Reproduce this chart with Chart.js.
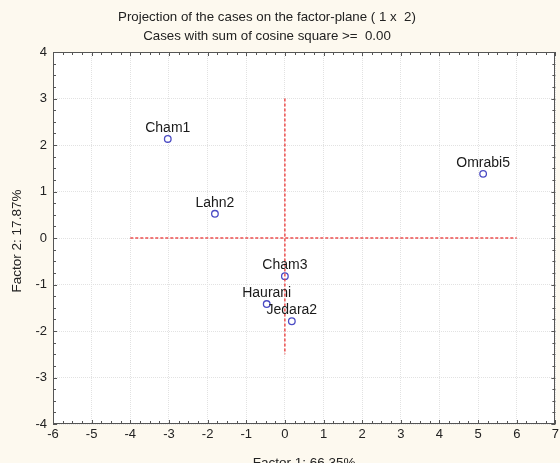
<!DOCTYPE html>
<html>
<head>
<meta charset="utf-8">
<script src="https://cdn.jsdelivr.net/npm/chart.js@4.4.1/dist/chart.umd.min.js"></script>
<style>
  html, body { margin: 0; padding: 0; background: #fdf9ef; }
  #wrap { width: 560px; height: 463px; position: relative; }
</style>
</head>
<body>
<div id="wrap"><canvas id="c" width="560" height="463"></canvas></div>
<script>
// Case coordinates on the first factor plane
const caseNames = ['Cham1', 'Lahn2', 'Cham3', 'Haurani', 'Jedara2', 'Omrabi5'];
const factor1 = [-3.03, -1.81, 0.00, -0.47, 0.18, 5.13];
const factor2 = [2.13, 0.52, -0.82, -1.42, -1.79, 1.38];

// Reference cross (dashed red)
const crossH = [{ x: -4, y: 0 }, { x: 6, y: 0 }];
const crossV = [{ x: 0, y: 3 }, { x: 0, y: -2.5 }];

const titleLines = ['Projection of the cases on the factor-plane ( 1 x  2)',
                    'Cases with sum of cosine square >=  0.00'];
const xTitle = 'Factor 1: 66.35%';
const yTitle = 'Factor 2: 17.87%';

const FONT = '"Liberation Sans", Arial, sans-serif';

const points = caseNames.map((n, i) => ({ x: factor1[i], y: factor2[i] }));

// Frame, inward minor/major ticks, case labels and text
const decor = {
  id: 'decor',
  beforeDraw(chart) {
    const { ctx, chartArea: a } = chart;
    ctx.save();
    ctx.fillStyle = '#ffffff';
    ctx.fillRect(a.left, a.top, a.right - a.left, a.bottom - a.top);
    ctx.restore();
  },
  afterDraw(chart) {
    const { ctx, chartArea: a, scales } = chart;
    const xs = scales.x, ys = scales.y;
    ctx.save();
    ctx.strokeStyle = '#555';
    ctx.lineWidth = 1;
    ctx.strokeRect(Math.round(a.left) + 0.5, Math.round(a.top) + 0.5,
                   Math.round(a.right - a.left) - 1, Math.round(a.bottom - a.top) - 1);
    ctx.beginPath();
    for (let v = xs.min; v <= xs.max + 1e-9; v += 0.25) {
      const px = Math.round(xs.getPixelForValue(v)) + 0.5;
      const len = Math.abs(v - Math.round(v)) < 1e-9 ? 4 : 3;
      ctx.moveTo(px, a.bottom); ctx.lineTo(px, a.bottom - len);
      ctx.moveTo(px, a.top); ctx.lineTo(px, a.top + len);
    }
    for (let v = ys.min; v <= ys.max + 1e-9; v += 0.25) {
      const py = Math.round(ys.getPixelForValue(v)) + 0.5;
      const len = Math.abs(v - Math.round(v)) < 1e-9 ? 4 : 3;
      ctx.moveTo(a.left, py); ctx.lineTo(a.left + len, py);
      ctx.moveTo(a.right, py); ctx.lineTo(a.right - len, py);
    }
    ctx.stroke();

    // case names above their markers
    const meta = chart.getDatasetMeta(2);
    ctx.fillStyle = '#1a1a1a';
    ctx.font = '14px ' + FONT;
    ctx.textAlign = 'center';
    ctx.textBaseline = 'middle';
    meta.data.forEach((el, i) => {
      ctx.fillText(caseNames[i], el.x, el.y - 11);
    });

    // titles
    ctx.fillStyle = '#222';
    ctx.font = '13.3px ' + FONT;
    ctx.fillText(titleLines[0], 267, 17);
    ctx.fillText(titleLines[1], 267, 36);
    ctx.font = '13.5px ' + FONT;
    ctx.fillText(xTitle, (a.left + a.right) / 2, 463);
    ctx.translate(17, (a.top + a.bottom) / 2 + 3);
    ctx.rotate(-Math.PI / 2);
    ctx.fillText(yTitle, 0, 0);
    ctx.restore();
  }
};

new Chart(document.getElementById('c'), {
  type: 'scatter',
  data: {
    datasets: [
      {
        type: 'line', data: crossH, borderColor: 'rgba(235,60,60,0.9)', borderWidth: 1.5,
        borderDash: [3, 2], pointRadius: 0, fill: false, showLine: true
      },
      {
        type: 'line', data: crossV, borderColor: 'rgba(235,60,60,0.9)', borderWidth: 1.5,
        borderDash: [3, 2], pointRadius: 0, fill: false, showLine: true
      },
      {
        data: points, pointStyle: 'circle', pointRadius: 3.3, pointHoverRadius: 3.3,
        borderColor: '#4b4bc4', backgroundColor: '#ffffff', borderWidth: 1.3
      }
    ]
  },
  options: {
    responsive: false,
    animation: false,
    events: [],
    layout: { padding: { top: 52, right: 3, left: 0, bottom: 0 } },
    plugins: { legend: { display: false }, tooltip: { enabled: false }, title: { display: false } },
    scales: {
      x: {
        type: 'linear', min: -6, max: 7,
        ticks: { stepSize: 1, color: '#222', font: { family: FONT, size: 13 }, padding: 3 },
        grid: { color: '#e2e2e2', tickLength: 0, lineWidth: 1 },
        border: { display: false, dash: [1, 1] },
        afterFit(s) { s.height = 39; s.paddingLeft = 0; s.paddingRight = 0; }
      },
      y: {
        type: 'linear', min: -4, max: 4,
        ticks: { stepSize: 1, color: '#222', font: { family: FONT, size: 13 }, padding: 6 },
        grid: { color: '#e2e2e2', tickLength: 0, lineWidth: 1 },
        border: { display: false, dash: [1, 1] },
        afterFit(s) { s.width = 53; s.paddingTop = 0; s.paddingBottom = 0; }
      }
    }
  },
  plugins: [decor]
});
</script>
</body>
</html>
